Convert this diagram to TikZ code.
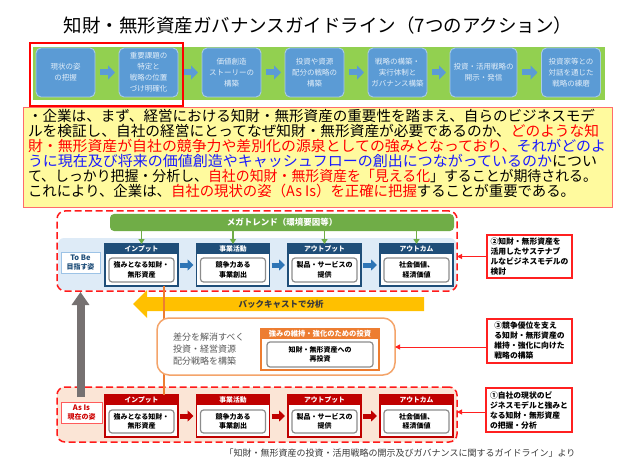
\documentclass[tikz,border=0pt]{standalone}
\usepackage{fontspec}
\setmainfont{Noto Sans CJK JP}
\usepackage{graphicx}
\usetikzlibrary{arrows.meta,calc}

\definecolor{bandgreen}{HTML}{92D050}
\definecolor{actblue}{HTML}{5B9BD5}
\definecolor{actedge}{HTML}{A9CBEA}
\definecolor{acttext}{HTML}{E2EEF9}
\definecolor{selred}{HTML}{FF0000}
\definecolor{yellowbg}{HTML}{FFFA9E}
\definecolor{yellowedge}{HTML}{FF6B6B}
\definecolor{txtred}{HTML}{FF0000}
\definecolor{txtblue}{HTML}{1A1AFF}
\definecolor{dashred}{HTML}{FF1A1A}
\definecolor{tobeband}{HTML}{DEEBF7}
\definecolor{megagreen}{HTML}{70AD47}
\definecolor{navy}{HTML}{1F4E79}
\definecolor{tbblue}{HTML}{2E75B6}
\definecolor{labelblue}{HTML}{9DC3E6}
\definecolor{innergray}{HTML}{8C8C8C}
\definecolor{asisfill}{HTML}{FBE5D6}
\definecolor{darkred}{HTML}{C00000}
\definecolor{asisred}{HTML}{FF5B5B}
\definecolor{backyellow}{HTML}{FFC000}
\definecolor{grayarr}{HTML}{767171}
\definecolor{orangeln}{HTML}{ED7D31}
\definecolor{gaporange}{HTML}{F4A46A}
\definecolor{gaptext}{HTML}{595959}
\definecolor{darktext}{HTML}{3A3A3A}
\definecolor{calloutred}{HTML}{FF2020}

\newcommand\fitto[2]{\resizebox{#1}{\height}{#2}}

\begin{document}
\begin{tikzpicture}[x=1pt,y=-1pt,
  every node/.style={inner sep=0pt, outer sep=0pt},
  actbox/.style={draw=actedge, line width=0.9pt, fill=actblue, rounded corners=5pt,
    minimum width=59pt, minimum height=49pt, text=acttext,
    font=\fontsize{7.5}{11}\selectfont, align=center},
  bandarrow/.style={draw=actblue, line width=6pt, -{Triangle[length=7pt,width=14pt]},
    shorten <=5pt, shorten >=4pt},
  noteline/.style={anchor=west, font=\fontsize{14.5}{15}\selectfont},
  dashbox/.style={draw=dashred, line width=1.5pt, dash pattern=on 7pt off 3.5pt,
    rounded corners=8pt, minimum width=400pt},
  colbody/.style={draw=#1, line width=1.4pt, fill=white, minimum width=73pt, minimum height=42pt},
  colhdr/.style={fill=#1, minimum width=73pt, minimum height=10pt, text=white,
    font=\bfseries\fontsize{6.8}{8}\selectfont},
  inbox/.style={draw=innergray, line width=1.2pt, fill=white, rounded corners=3pt,
    minimum width=65pt, minimum height=24pt, align=center,
    font=\bfseries\fontsize{7}{9.5}\selectfont},
  megaarrow/.style={draw=megagreen, line width=1.2pt, -{Triangle[length=5pt,width=6pt]}},
  colarrow/.style={draw=#1, line width=5pt, -{Triangle[length=6pt,width=11pt]},
    shorten <=2pt, shorten >=3pt},
  callout/.style={draw=calloutred, line width=1.3pt, fill=white, minimum width=85pt,
    minimum height=43pt, align=left, font=\bfseries\fontsize{7.8}{10}\selectfont},
  callarrow/.style={draw=calloutred, line width=1pt, -{Triangle[length=5pt,width=5pt]}},
]
\fill[white] (0,0) rectangle (635,476);
\path[use as bounding box] (0,0) rectangle (635,476);

% title
\node[font=\fontsize{18.5}{20}\selectfont] (title) at (318,25)
  {知財・無形資産ガバナンスガイドライン（7つのアクション）};

% green band with seven actions
\node[fill=bandgreen, minimum width=572pt, minimum height=53pt] (band) at (319,73.5) {};
\node[actbox] (act1) at (65.5,72.5) {現状の姿\\の把握};
\node[actbox] (act2) at (148.5,72.5) {重要課題の\\特定と\\戦略の位置\\づけ明確化};
\node[actbox] (act3) at (231.5,72.5) {価値創造\\ストーリーの\\構築};
\node[actbox] (act4) at (314.5,72.5) {投資や資源\\配分の戦略の\\構築};
\node[actbox] (act5) at (397.5,72.5) {戦略の構築・\\実行体制と\\ガバナンス構築};
\node[actbox, minimum width=67pt] (act6) at (483.5,72.5) {投資・活用戦略の\\開示・発信};
\node[actbox] (act7) at (571,72.5) {投資家等との\\対話を通じた\\戦略の練磨};
\draw[bandarrow] (act1) -- (act2);
\draw[bandarrow] (act2) -- (act3);
\draw[bandarrow] (act3) -- (act4);
\draw[bandarrow] (act4) -- (act5);
\draw[bandarrow] (act5) -- (act6);
\draw[bandarrow] (act6) -- (act7);
\node[draw=selred, line width=1.6pt, minimum width=153pt, minimum height=63pt] (sel) at (106.5,74.5) {};

% yellow note
\node[fill=yellowbg, draw=yellowedge, line width=0.8pt, minimum width=589pt, minimum height=100pt] (note) at (317.5,157) {};
\node[noteline] (l1) at (28,116) {\fitto{567pt}{・企業は、まず、経営における知財・無形資産の重要性を踏まえ、自らのビジネスモデ}};
\node[noteline] (l2) at (28,131) {\fitto{571pt}{ルを検証し、自社の経営にとってなぜ知財・無形資産が必要であるのか、\textcolor{txtred}{どのような知}}};
\node[noteline] (l3) at (28,146) {\fitto{578pt}{\textcolor{txtred}{財・無形資産が自社の競争力や差別化の源泉としての強みとなっており、}\textcolor{txtblue}{それがどのよ}}};
\node[noteline] (l4) at (28,161) {\fitto{569pt}{\textcolor{txtblue}{うに現在及び将来の価値創造やキャッシュフローの創出につながっているのか}につい}};
\node[noteline] (l5) at (28,176) {\fitto{569pt}{て、しっかり把握・分析し、\textcolor{txtred}{自社の知財・無形資産を「見える化}」することが期待される。}};
\node[noteline] (l6) at (28,191) {\fitto{547pt}{これにより、企業は、\textcolor{txtred}{自社の現状の姿（As Is）を正確に把握}することが重要である。}};

% ---------- To Be ----------
\node[fill=tobeband, rounded corners=6pt, minimum width=398pt, minimum height=52pt] (tbband) at (257,264) {};
\node[dashbox, minimum height=80pt] (tobe) at (257,251) {};
\node[fill=megagreen, rounded corners=4pt, minimum width=344pt, minimum height=17pt,
  text=white, font=\bfseries\fontsize{8.5}{10}\selectfont] (mega) at (282,222.5) {メガトレンド（環境要因等）};

\node[colbody=navy] (tb1) at (141.5,265) {};
\node[colbody=navy] (tb2) at (233,265) {};
\node[colbody=navy] (tb3) at (324.5,265) {};
\node[colbody=navy] (tb4) at (416.5,265) {};
\node[colhdr=navy] (th1) at (141.5,249) {インプット};
\node[colhdr=navy] (th2) at (233,249) {事業活動};
\node[colhdr=navy] (th3) at (324.5,249) {アウトプット};
\node[colhdr=navy] (th4) at (416.5,249) {アウトカム};
\node[inbox] (ti1) at (141.5,270) {強みとなる知財・\\無形資産};
\node[inbox] (ti2) at (233,270) {競争力ある\\事業創出};
\node[inbox] (ti3) at (324.5,270) {製品・サービスの\\提供};
\node[inbox] (ti4) at (416.5,270) {社会価値、\\経済価値};
\draw[megaarrow] (mega.south -| th1.north) -- (th1.north);
\draw[megaarrow] (mega.south -| th2.north) -- (th2.north);
\draw[megaarrow] (mega.south -| th3.north) -- (th3.north);
\draw[megaarrow] (mega.south -| th4.north) -- (th4.north);
\draw[colarrow=tbblue] (tb1.east) -- (tb2.west);
\draw[colarrow=tbblue] (tb2.east) -- (tb3.west);
\draw[colarrow=tbblue] (tb3.east) -- (tb4.west);
\node[draw=labelblue, line width=1pt, fill=white, minimum width=39pt, minimum height=21pt,
  align=center, text=navy, font=\bfseries\fontsize{7}{8.5}\selectfont] (tobelbl) at (80.5,262.5)
  {{\fontsize{7.5}{8.5}\selectfont To Be}\\目指す姿};

% ---------- As Is ----------
\node[dashbox, fill=asisfill, minimum height=55pt] (asis) at (257,414.5) {};
\node[colbody=darkred] (ab1) at (141.5,416) {};
\node[colbody=darkred] (ab2) at (233,416) {};
\node[colbody=darkred] (ab3) at (324.5,416) {};
\node[colbody=darkred] (ab4) at (416.5,416) {};
\node[colhdr=darkred] (ah1) at (141.5,399.5) {インプット};
\node[colhdr=darkred] (ah2) at (233,399.5) {事業活動};
\node[colhdr=darkred] (ah3) at (324.5,399.5) {アウトプット};
\node[colhdr=darkred] (ah4) at (416.5,399.5) {アウトカム};
\node[inbox, minimum height=23pt] (ai1) at (141.5,421.5) {強みとなる知財・\\無形資産};
\node[inbox, minimum height=23pt] (ai2) at (233,421.5) {競争力ある\\事業創出};
\node[inbox, minimum height=23pt] (ai3) at (324.5,421.5) {製品・サービスの\\提供};
\node[inbox, minimum height=23pt] (ai4) at (416.5,421.5) {社会価値、\\経済価値};
\draw[colarrow=darkred] (ab1.east) -- (ab2.west);
\draw[colarrow=darkred] (ab2.east) -- (ab3.west);
\draw[colarrow=darkred] (ab3.east) -- (ab4.west);
\node[draw=asisred, line width=1pt, fill=white, minimum width=41pt, minimum height=21pt,
  align=center, text=darkred!80!red, font=\bfseries\fontsize{7}{8.5}\selectfont] (asislbl) at (81.5,412.5)
  {{\fontsize{7.5}{8.5}\selectfont As Is}\\現在の姿};

% gray up arrow (As Is -> To Be)
\coordinate (gBot) at (80.5,397);
\coordinate (gTop) at (80.5,292);
\draw[draw=grayarr, line width=8pt, -{Triangle[length=13pt,width=17pt]}] (gBot) -- (gTop);

% back-cast arrow
\fill[backyellow] (424,297) -- (147,297) -- (147,290) -- (133,304) -- (147,318) -- (147,311) -- (424,311) -- cycle;
\node[text=darktext, font=\bfseries\fontsize{8.5}{10}\selectfont] (backtxt) at (281,304) {バックキャストで分析};

% orange link line
\coordinate (oX) at (164,0);
\draw[draw=orangeln, line width=2.5pt] (tb1.south -| oX) -- (ab1.north -| oX);

% gap box
\node[draw=gaporange, line width=1.5pt, fill=white, rounded corners=12pt,
  minimum width=238pt, minimum height=57pt] (gap) at (276,346.5) {};
\node[anchor=west, align=left, text=gaptext, font=\fontsize{9}{12}\selectfont] (gaptxt) at (173,349)
  {差分を解消すべく\\投資・経営資源\\配分戦略を構築};
\node[draw=orangeln, line width=1.2pt, fill=white, minimum width=118pt, minimum height=41pt] (invb) at (320,349.5) {};
\node[fill=orangeln, minimum width=118pt, minimum height=10pt, text=white,
  font=\bfseries\fontsize{7.3}{8}\selectfont] (invh) at (320,333.5) {強みの維持・強化のための投資};
\node[inbox, minimum width=106pt, minimum height=25pt] (invi) at (320,354.5) {知財・無形資産への\\再投資};

% callouts
\node[callout] (c2) at (529.5,256.5) {②知財・無形資産を\\活用したサステナブ\\ルなビジネスモデルの\\検討};
\node[callout, minimum height=44pt] (c3) at (529.5,341) {③競争優位を支え\\る知財・無形資産の\\維持・強化に向けた\\戦略の構築};
\node[callout, minimum width=86pt, minimum height=44pt] (c1) at (529,410) {①自社の現状のビ\\ジネスモデルと強みと\\なる知財・無形資産\\の把握・分析};
\draw[callarrow] (c2.west) -- (c2.west -| tobe.east);
\draw[callarrow] ([yshift=-6pt]c3.west) -- ([yshift=-6pt]c3.west -| gap.east);
\draw[callarrow] ([yshift=-2pt]c1.west) -- ([yshift=-2pt]c1.west -| asis.east);

% footer
\node[text=darktext, font=\fontsize{9}{10}\selectfont] (foot) at (400,453)
  {「知財・無形資産の投資・活用戦略の開示及びガバナンスに関するガイドライン」より};
\end{tikzpicture}
\end{document}
